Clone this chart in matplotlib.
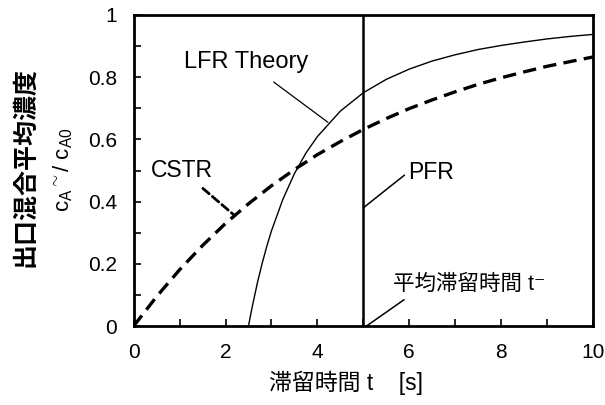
import matplotlib
matplotlib.use('Agg')
import matplotlib.pyplot as plt
from matplotlib.ticker import MultipleLocator

plt.rcParams['font.family'] = ['Liberation Sans', 'Noto Sans CJK JP', 'DejaVu Sans']
plt.rcParams['mathtext.fontset'] = 'custom'
plt.rcParams['mathtext.rm'] = 'Liberation Sans'
plt.rcParams['mathtext.it'] = 'Liberation Sans'

# CSTR outlet mean concentration
cstr_t = [0, 0.5, 1, 1.5, 2, 2.5, 3, 3.5, 4, 4.5, 5, 5.5, 6, 6.5, 7,
          7.5, 8, 8.5, 9, 9.5, 10]
cstr_c = [0, 0.095, 0.181, 0.259, 0.330, 0.393, 0.451, 0.503, 0.551, 0.593,
          0.632, 0.667, 0.699, 0.727, 0.753, 0.777, 0.798, 0.817, 0.835,
          0.850, 0.865]

# LFR theory curve
lfr_t = [2.5, 2.55, 2.6, 2.7, 2.8, 2.9, 3.0, 3.25, 3.5, 3.75, 4.0, 4.5, 5.0,
         5.5, 6.0, 6.5, 7.0, 7.5, 8.0, 8.5, 9.0, 9.5, 10.0]
lfr_c = [0, 0.039, 0.075, 0.143, 0.203, 0.257, 0.306, 0.408, 0.490, 0.556,
         0.609, 0.691, 0.750, 0.793, 0.826, 0.852, 0.872, 0.889, 0.902,
         0.913, 0.923, 0.931, 0.9375]

# PFR: step at mean residence time
pfr_t = [5, 5]
pfr_c = [0, 1]

fig = plt.figure(figsize=(6.05, 4.05), dpi=100)
ax = fig.add_axes([0.221, 0.195, 0.759, 0.768])

ax.plot(cstr_t, cstr_c, color='black', lw=2.4, ls=(0, (4, 2.2)))
ax.plot(lfr_t, lfr_c, color='black', lw=1.0)
ax.plot(pfr_t, pfr_c, color='black', lw=1.8)

ax.set_xlim(0, 10); ax.set_ylim(0, 1)
ax.xaxis.set_major_locator(MultipleLocator(2))
ax.xaxis.set_minor_locator(MultipleLocator(1))
ax.yaxis.set_major_locator(MultipleLocator(0.2))
ax.yaxis.set_minor_locator(MultipleLocator(0.1))
ax.yaxis.set_major_formatter(lambda v, p: f'{v:g}')
ax.tick_params(which='both', direction='in', length=5, width=1.2,
               labelsize=15, pad=12, colors='black')
for s in ax.spines.values():
    s.set_linewidth(2)

# annotations
ax.annotate('LFR Theory', xy=(4.23, 0.655), xytext=(2.45, 0.85),
            fontsize=17, ha='center', va='center',
            arrowprops=dict(arrowstyle='-', color='black', lw=0.9,
                            shrinkA=8, shrinkB=0))
ax.annotate('CSTR', xy=(2.2, 0.355), xytext=(1.05, 0.50),
            fontsize=16.5, ha='center', va='center',
            arrowprops=dict(arrowstyle='-', color='black', lw=2, ls=(0, (3, 1.5)),
                            shrinkA=4, shrinkB=0))
ax.annotate('PFR', xy=(5.0, 0.38), xytext=(5.98, 0.495),
            fontsize=16.5, ha='left', va='center',
            arrowprops=dict(arrowstyle='-', color='black', lw=1.1,
                            relpos=(0.0, 0.5), shrinkA=1, shrinkB=0))
ax.annotate('平均滞留時間 t\u207b', xy=(5.07, 0.0), xytext=(5.65, 0.135),
            fontsize=15.5, ha='left', va='center',
            arrowprops=dict(arrowstyle='-', color='black', lw=1.1,
                            relpos=(0.12, 0.0), shrinkA=3, shrinkB=0))

fig.text(346 / 605, 1 - 383 / 405, '滞留時間 t    [s]', fontsize=16.5,
         ha='center', va='center')
fig.text(25 / 605, 1 - 167 / 405, '出口混合平均濃度', fontsize=18,
         fontweight='bold', rotation=90, ha='center', va='center')
fig.text(63 / 605, 1 - 170 / 405, r'c$_\mathregular{A}$$^{\sim}$/ c$_\mathregular{A0}$',
         fontsize=16, rotation=90, ha='center', va='center')

fig.savefig('out.png', dpi=100)
